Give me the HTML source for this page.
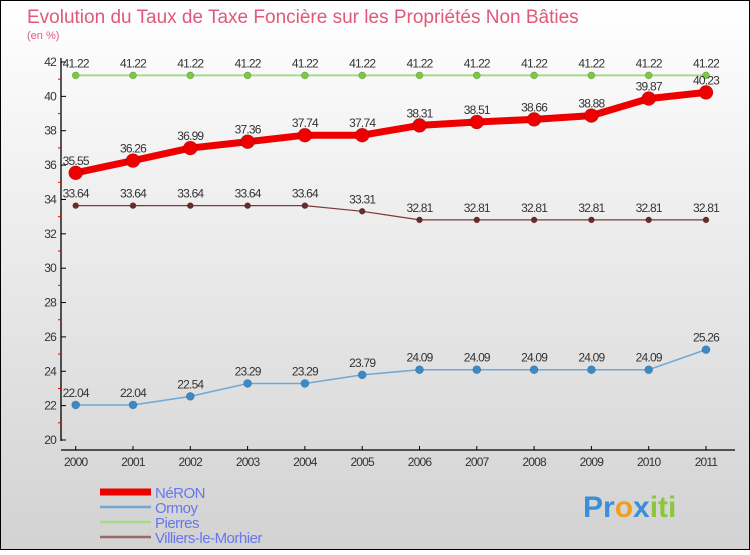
<!DOCTYPE html>
<html><head><meta charset="utf-8"><style>
html,body{margin:0;padding:0}
body{width:750px;height:550px;overflow:hidden;font-family:"Liberation Sans",sans-serif}
</style></head><body>
<svg id="chart" width="750" height="550" xmlns="http://www.w3.org/2000/svg">
<defs><linearGradient id="bg" x1="0" y1="0" x2="0" y2="1"><stop offset="0" stop-color="#ffffff"/><stop offset="1" stop-color="#d2d2d2"/></linearGradient></defs>
<rect x="0.5" y="0.5" width="749" height="549" fill="url(#bg)" stroke="#000"/>
<text x="27" y="23" font-size="19" fill="#e0587a">Evolution du Taux de Taxe Foncière sur les Propriétés Non Bâties</text>
<text x="27" y="39" font-size="11" fill="#e0587a">(en %)</text>
<g id="axes"></g>
<g id="series"></g>
<g id="legend"></g>
<text x="583" y="517" font-size="30" font-weight="bold"><tspan fill="#3a8fd8">Pr</tspan><tspan fill="#f0a020">o</tspan><tspan fill="#3a8fd8">x</tspan><tspan fill="#8cc63f">iti</tspan></text>
</svg>
<script>
const years = [2000,2001,2002,2003,2004,2005,2006,2007,2008,2009,2010,2011];
const neron = [35.55,36.26,36.99,37.36,37.74,37.74,38.31,38.51,38.66,38.88,39.87,40.23];
const ormoy = [22.04,22.04,22.54,23.29,23.29,23.79,24.09,24.09,24.09,24.09,24.09,25.26];
const pierres = [41.22,41.22,41.22,41.22,41.22,41.22,41.22,41.22,41.22,41.22,41.22,41.22];
const villiers = [33.64,33.64,33.64,33.64,33.64,33.31,32.81,32.81,32.81,32.81,32.81,32.81];
const yTicks = [20,22,24,26,28,30,32,34,36,38,40,42];
const NS='http://www.w3.org/2000/svg';
function X(i){return 75.7+i*57.3;}
function Y(v){return 440-(v-20)*(378/22);}
function mk(tag,attrs,parent){const e=document.createElementNS(NS,tag);for(const k in attrs)e.setAttribute(k,attrs[k]);parent.appendChild(e);return e;}
const axes=document.getElementById('axes');
let ya=mk('line',{x1:61,y1:58,x2:61,y2:441,stroke:'#000','stroke-width':1.3},axes);


let xa=mk('line',{x1:61,y1:450,x2:735,y2:450,stroke:'#000','stroke-width':1.3},axes);


yTicks.forEach((t,i)=>{
  mk('line',{x1:61,y1:Y(t),x2:66,y2:Y(t),stroke:'#000'},axes);
  if(i<yTicks.length-1) mk('line',{x1:58,y1:Y(t+1),x2:61,y2:Y(t+1),stroke:'#e00'},axes);
  const tx=mk('text',{x:56,y:Y(t)+4,'font-size':12,'text-anchor':'end',fill:'#333','letter-spacing':'-0.8'},axes);
  tx.textContent=t;
  
  
});
years.forEach((yr,i)=>{
  mk('line',{x1:X(i),y1:446,x2:X(i),y2:450,stroke:'#000'},axes);
  const tx=mk('text',{x:X(i),y:466,'font-size':12,'text-anchor':'middle',fill:'#333','letter-spacing':'-0.8'},axes);
  tx.textContent=yr;
  
  
});
const ser=document.getElementById('series');
function draw(vals,color,lw,r,name,dot){
  const g=mk('g',{},ser);
  
  
  const ln=mk('polyline',{points:vals.map((v,i)=>X(i)+','+Y(v)).join(' '),fill:'none',stroke:color,'stroke-width':lw,'stroke-linejoin':'round'},g);
  
  vals.forEach((v,i)=>{
    const c=mk('circle',{cx:X(i),cy:Y(v),r:r,fill:dot,stroke:'rgba(0,0,0,0.25)','stroke-width':0.6},g);
    
    
    const t=mk('text',{x:X(i),y:Y(v)-8,'font-size':12,'text-anchor':'middle',fill:'#333','letter-spacing':'-0.8'},g);
    t.textContent=String(v.toFixed(2)).replace(/\.(\d)$/,'.$10');
    if(name!=='neron'&&name!=='pierres'&&/\.\d[1-9]?$/.test(t.textContent)) {}
    
  });
}
draw(pierres,'#a6dc88',2,3.5,'pierres','#7ac943');
draw(villiers,'#7a3a3a',1.2,3,'villiers','#6b2a2a');
draw(ormoy,'#6fa8d6',1.5,4,'ormoy','#3a8ac8');
draw(neron,'#ee0000',7,7,'neron','#ee0000');
const leg=document.getElementById('legend');
const names=['NéRON','Ormoy','Pierres','Villiers-le-Morhier'];
const cols=['#ee0000','#6fa8d6','#a6dc88','#9a6a6a'];
const ws=[7,2.5,2.5,2.5];
names.forEach((n,i)=>{
  const y=492+i*15;
  const l=mk('line',{x1:100,y1:y,x2:151,y2:y,stroke:cols[i],'stroke-width':ws[i]},leg);
  
  const t=mk('text',{x:155,y:y+6,'font-size':15,fill:'#6677ee','letter-spacing':'-0.5'},leg);
  t.textContent=n;
  
  
});
</script>
</body></html>
